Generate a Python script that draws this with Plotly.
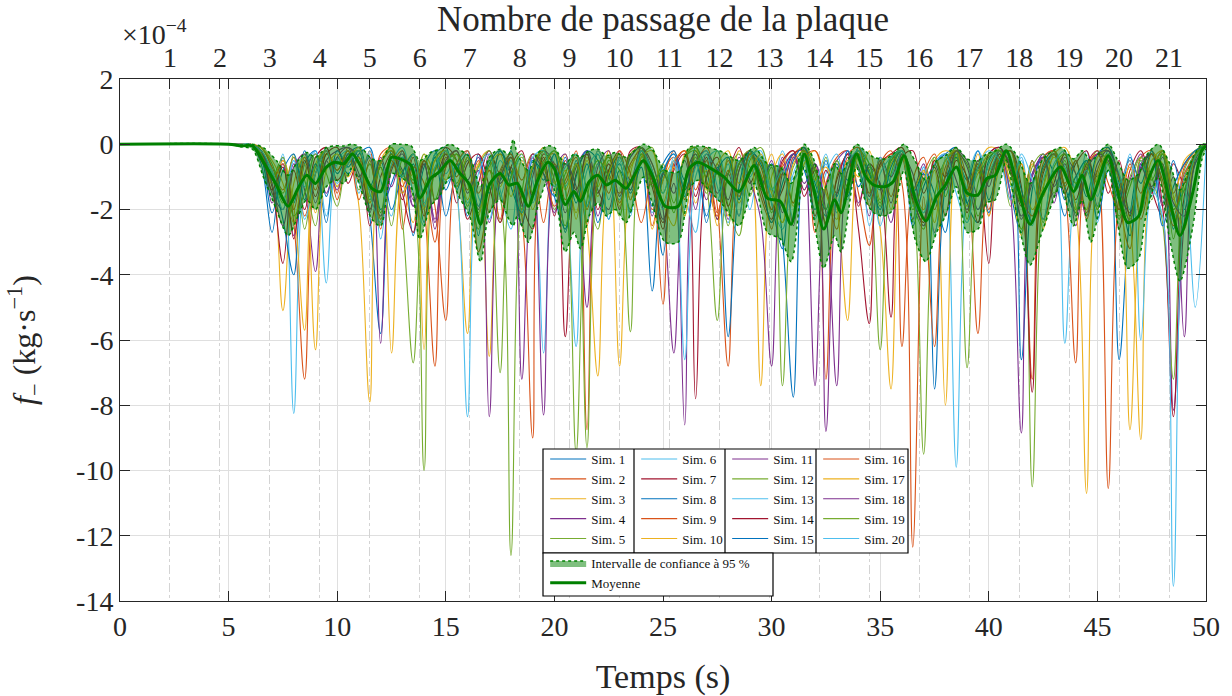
import numpy as np
import plotly.graph_objects as go

# ------------------------------------------------------------------ données
ECHELLE = 1e-4                      # les valeurs ci-dessous sont en 1e-4 kg/s
temps_grille = [0.0] + list(np.arange(5.5, 50.0 + 0.25, 0.5))   # 0 puis 5.5 ... 50 s

sim_01 = [0, 0, -0.6, -2.7, -0.4, -1.8, -0.2, -1.2, -0.1, -0.9,
          -0.3, -0.1, -2.2, -5.8, -0.2, -1.5, -0.6, -2.4, -0.3, -0.1,
          -1.4, -0.4, -2.8, -0.5, -1.1, -0.2, -2.0, -0.8, -0.1, -1.6,
          -2.6, -0.5, -1.9, -0.3, -1.2, -0.6, -2.1, -0.2, -1.0, -3.4,
          -0.5, -1.6, -0.1, -0.8, -2.3, -0.4, -1.7, -0.2, -1.3, -0.6,
          -2.9, -7.75, -0.3, -1.4, -2.2, -0.5, -1.1, -0.1, -0.9, -2.0,
          -0.4, -0.2, -2.5, -1.3, -0.6, -0.3, -0.1, -1.8, -2.4, -0.5,
          -0.1, -1.5, -2.7, -0.9, -0.4, -0.2, -1.3, -2.1, -0.5, -1.0,
          -0.2, -6.6, -2.2, -0.6, -1.4, -0.3, -2.6, -1.0, -0.4, 0]
sim_02 = [0, 0, -0.2, -1.1, -0.5, -2.4, -7.2, -0.9, -0.2, -1.5,
          -0.1, -0.6, -1.8, -0.3, -0.1, -2.6, -0.7, -1.2, -3.0, -0.4,
          -1.0, -0.2, -3.3, -1.6, -0.3, -0.8, -2.2, -9.0, -0.5, -0.3,
          -1.7, -0.6, -2.5, -0.2, -0.9, -1.5, -0.3, -0.1, -2.0, -1.1,
          -0.2, -1.4, -0.6, -0.1, -1.9, -6.8, -0.8, -0.2, -1.6, -2.4,
          -0.7, -0.3, -0.1, -2.7, -1.2, -0.4, -0.2, -1.5, -3.1, -0.6,
          -0.2, -6.2, -1.1, -0.4, -2.0, -0.7, -0.1, -1.6, -0.5, -2.2,
          -0.3, -0.9, -1.7, -7.2, -0.6, -0.2, -1.2, -0.5, -2.3, -0.8,
          -0.1, -1.8, -3.2, -0.4, -0.2, -1.3, -2.5, -0.7, -0.2, -0.05]
sim_03 = [0, 0, -0.1, -0.8, -5.1, -1.2, -0.4, -2.1, -0.3, -0.6,
          -0.2, -1.9, -7.9, -0.5, -0.1, -1.1, -2.4, -0.3, -0.8, -0.2,
          -1.5, -5.8, -0.6, -0.2, -1.3, -0.4, -2.0, -0.7, -0.1, -1.2,
          -0.3, -2.3, -0.5, -1.6, -0.2, -6.8, -0.9, -0.1, -0.6, -1.8,
          -2.5, -0.3, -0.1, -1.4, -0.6, -2.2, -0.2, -0.7, -1.1, -0.3,
          -1.9, -0.4, -0.1, -0.8, -2.4, -0.6, -1.3, -0.2, -1.0, -2.6,
          -7.5, -0.3, -1.5, -2.3, -0.5, -0.2, -0.4, -1.9, -0.7, -0.1,
          -0.2, -1.2, -2.8, -0.6, -1.6, -0.3, -0.1, -0.9, -2.0, -0.4,
          -0.2, -1.0, -8.75, -1.8, -0.3, -0.6, -2.0, -1.2, -0.3, -0.05]
sim_04 = [0, 0, -0.3, -1.5, -2.0, -0.6, -1.4, -3.9, -0.5, -0.2,
          -0.1, -0.4, -1.3, -2.2, -0.3, -0.8, -1.9, -0.5, -2.6, -0.7,
          -0.2, -1.1, -0.4, -2.4, -0.9, -0.3, -7.2, -1.0, -0.2, -0.6,
          -2.1, -0.7, -0.2, -1.4, -2.0, -0.4, -1.1, -0.1, -0.8, -2.3,
          -1.2, -8.6, -0.6, -0.2, -1.5, -0.9, -2.2, -0.3, -0.5, -1.7,
          -0.4, -2.5, -0.1, -7.4, -1.3, -0.5, -0.2, -1.8, -0.7, -1.2,
          -2.4, -0.3, -1.4, -0.6, -2.7, -1.0, -0.2, -0.5, -1.6, -0.3,
          -0.1, -0.7, -2.2, -1.2, -0.4, -1.6, -0.2, -2.5, -0.8, -0.3,
          -0.5, -2.0, -1.1, -0.3, -1.5, -0.6, -8.15, -2.4, -0.4, -0.05]
sim_05 = [0, 0, -0.2, -0.9, -1.8, -0.3, -2.6, -0.7, -0.2, -1.3,
          -0.5, -0.2, -1.7, -0.6, -0.1, -2.3, -6.7, -1.4, -0.4, -0.2,
          -1.2, -0.4, -2.1, -0.8, -1.6, -12.6, -1.5, -0.3, -0.6, -2.0,
          -0.9, -0.3, -1.4, -2.6, -0.5, -1.1, -5.75, -0.4, -0.1, -1.5,
          -0.6, -2.2, -0.3, -1.0, -0.2, -1.9, -2.8, -0.5, -0.1, -1.3,
          -2.4, -0.7, -0.2, -1.6, -0.4, -2.1, -0.8, -0.3, -1.2, -6.3,
          -0.9, -0.2, -1.8, -2.6, -0.4, -1.2, -0.3, -0.6, -2.2, -1.0,
          -0.3, -1.9, -0.6, -10.5, -1.4, -0.2, -0.8, -2.0, -0.5, -1.2,
          -0.3, -2.3, -1.0, -0.4, -1.7, -0.2, -2.9, -0.8, -0.2, 0]
sim_06 = [0, 0, -0.4, -1.6, -0.3, -8.25, -1.0, -0.2, -2.2, -0.5,
          -0.2, -1.2, -0.3, -2.9, -0.6, -0.1, -1.5, -2.5, -0.4, -0.9,
          -0.3, -1.8, -0.7, -0.2, -1.4, -2.6, -0.5, -1.1, -6.4, -0.3,
          -1.3, -0.6, -2.4, -0.2, -1.0, -1.7, -0.4, -0.1, -2.1, -0.8,
          -0.3, -1.5, -2.7, -0.5, -0.2, -1.2, -0.6, -2.0, -0.4, -1.6,
          -0.2, -1.1, -0.5, -2.3, -0.9, -0.3, -1.7, -0.1, -0.6, -2.5,
          -1.0, -0.3, -1.9, -0.7, -2.8, -0.4, -9.9, -1.3, -0.2, -0.8,
          -0.2, -1.4, -0.5, -2.2, -1.1, -0.3, -0.7, -1.8, -0.2, -2.4,
          -0.6, -1.5, -0.3, -2.1, -0.8, -0.2, -1.9, -0.9, -0.3, -0.1]
sim_07 = [0, 0, -0.5, -1.3, -3.65, -0.8, -2.0, -0.4, -0.1, -1.1,
          -0.6, -0.2, -2.5, -1.0, -0.3, -1.7, -0.4, -2.2, -0.8, -0.1,
          -0.5, -2.3, -1.2, -0.2, -0.9, -0.4, -1.8, -2.6, -0.3, -0.7,
          -5.9, -0.9, -0.3, -1.5, -0.6, -2.0, -0.2, -0.1, -1.3, -2.4,
          -0.7, -0.2, -1.6, -0.4, -2.3, -0.9, -0.1, -1.2, -0.5, -2.0,
          -1.4, -0.3, -0.2, -2.2, -0.8, -1.5, -0.4, -2.6, -5.5, -0.6,
          -0.3, -0.1, -1.7, -2.4, -0.5, -1.0, -0.2, -2.1, -0.7, -3.65,
          -0.4, -0.2, -1.3, -7.6, -0.9, -0.3, -1.5, -0.6, -0.2, -1.9,
          -0.4, -2.6, -0.8, -0.2, -1.4, -2.2, -0.6, -1.2, -0.3, -0.05]
sim_08 = [0, 0, -0.2, -1.0, -2.3, -4.0, -0.6, -0.2, -1.6, -0.4,
          -0.9, -0.3, -0.1, -2.0, -1.2, -0.4, -2.8, -0.7, -0.2, -1.4,
          -0.6, -2.2, -0.3, -1.5, -0.2, -0.9, -2.5, -0.4, -1.1, -0.3,
          -2.7, -1.0, -0.2, -0.5, -2.3, -0.8, -1.4, -0.3, -1.9, -0.6,
          -0.2, -1.1, -0.4, -2.4, -0.7, -5.9, -1.3, -0.2, -0.6, -1.8,
          -3.2, -0.5, -0.1, -1.2, -2.0, -0.6, -1.6, -0.3, -0.9, -1.4,
          -0.5, -0.2, -2.3, -0.8, -1.5, -2.7, -0.4, -1.1, -0.2, -1.7,
          -0.6, -0.2, -6.6, -1.4, -0.3, -0.9, -2.2, -0.5, -1.6, -0.3,
          -0.1, -1.2, -2.8, -0.7, -0.3, -1.8, -0.5, -2.0, -0.6, -0.05]
sim_09 = [0, 0, -0.1, -0.7, -1.4, -0.4, -2.2, -0.9, -0.2, -1.7,
          -0.4, -1.1, -0.2, -2.6, -0.5, -1.3, -0.3, -1.9, -6.8, -0.7,
          -0.2, -1.4, -0.5, -2.1, -0.8, -0.3, -1.6, -0.4, -2.4, -0.6,
          -1.2, -0.2, -8.75, -1.0, -0.4, -1.8, -0.6, -0.2, -2.5, -0.9,
          -0.4, -1.7, -0.2, -1.1, -2.2, -0.5, -1.5, -0.3, -0.9, -2.6,
          -0.6, -0.2, -1.4, -0.7, -7.2, -1.0, -0.3, -0.1, -1.9, -0.5,
          -1.6, -0.4, -2.3, -0.9, -0.3, -1.4, -0.2, -1.1, -5.8, -0.8,
          -0.2, -1.7, -0.6, -2.4, -0.4, -0.2, -1.3, -0.5, -2.1, -0.8,
          -10.55, -1.6, -0.5, -2.3, -0.9, -0.2, -1.5, -0.6, -0.3, -0.05]
sim_10 = [0, 0, -0.3, -1.2, -0.5, -1.9, -5.7, -0.6, -0.2, -1.3,
          -0.5, -0.1, -1.6, -0.7, -6.4, -0.9, -0.3, -2.0, -0.5, -1.1,
          -0.3, -1.7, -0.6, -6.5, -1.0, -0.4, -2.2, -0.7, -0.2, -1.5,
          -0.8, -2.1, -0.4, -1.3, -0.2, -1.9, -0.7, -0.3, -2.6, -1.1,
          -0.5, -0.2, -1.8, -0.8, -2.5, -0.4, -1.2, -0.3, -7.4, -1.0,
          -0.3, -1.9, -0.6, -0.2, -1.5, -2.3, -0.5, -1.0, -0.2, -1.7,
          -0.6, -0.2, -1.3, -2.0, -0.8, -8.0, -0.4, -1.5, -0.3, -2.2,
          -0.7, -0.2, -1.8, -0.5, -2.6, -1.0, -0.3, -1.4, -0.6, -2.0,
          -0.4, -1.1, -2.4, -9.05, -0.8, -0.3, -1.7, -0.5, -0.2, -0.1]
sim_11 = [0, 0, -0.2, -1.8, -0.6, -2.8, -0.9, -0.3, -1.5, -0.4,
          -0.1, -1.0, -0.4, -6.1, -0.8, -0.3, -1.9, -0.6, -2.3, -0.2,
          -1.3, -0.5, -2.0, -0.3, -1.2, -0.7, -2.5, -0.4, -8.3, -0.9,
          -0.3, -1.6, -0.2, -2.2, -0.8, -0.4, -1.4, -0.1, -0.6, -2.0,
          -6.4, -1.1, -0.3, -1.7, -0.6, -2.3, -0.8, -0.2, -1.3, -0.5,
          -2.1, -0.4, -1.2, -0.6, -8.8, -1.5, -0.3, -0.7, -2.2, -0.4,
          -1.0, -0.2, -1.6, -2.5, -0.6, -0.3, -1.1, -2.0, -0.5, -1.3,
          -0.2, -0.6, -2.3, -1.0, -0.3, -1.8, -0.4, -0.9, -2.2, -0.6,
          -0.2, -1.4, -2.1, -0.6, -0.3, -1.9, -1.0, -5.9, -0.5, -0.05]
sim_12 = [0, 0, -0.1, -0.6, -1.5, -0.4, -1.1, -2.5, -0.3, -0.8,
          -0.2, -1.4, -0.6, -2.1, -0.3, -0.9, -1.6, -10.0, -0.8, -0.3,
          -0.5, -1.9, -0.7, -0.2, -2.4, -1.0, -0.4, -1.5, -0.2, -1.1,
          -2.5, -0.6, -9.3, -1.2, -0.4, -0.8, -2.0, -0.3, -1.3, -0.6,
          -1.8, -0.4, -0.1, -1.2, -5.4, -0.9, -0.3, -1.6, -0.5, -2.1,
          -0.7, -1.8, -0.2, -1.0, -2.4, -0.5, -1.3, -0.3, -0.8, -1.9,
          -0.4, -0.2, -1.4, -9.5, -1.6, -0.5, -0.2, -2.3, -0.8, -1.1,
          -0.3, -1.2, -2.6, -0.7, -0.3, -1.5, -0.5, -2.1, -0.9, -0.2,
          -0.6, -2.2, -1.3, -0.4, -1.0, -2.4, -7.2, -1.1, -0.3, -0.05]
sim_13 = [0, 0, -0.3, -0.9, -2.0, -0.5, -1.3, -0.2, -4.25, -0.6,
          -0.3, -1.5, -0.2, -1.1, -2.2, -0.4, -0.8, -1.9, -0.3, -1.2,
          -0.6, -0.2, -1.6, -2.3, -0.5, -1.0, -0.3, -1.8, -0.6, -0.2,
          -1.4, -6.2, -0.8, -0.3, -1.7, -0.5, -2.2, -0.2, -0.9, -1.5,
          -0.4, -2.0, -0.7, -0.2, -1.3, -2.4, -0.5, -1.0, -0.3, -1.8,
          -2.6, -0.9, -0.3, -1.5, -0.6, -2.1, -0.2, -0.8, -1.7, -0.4,
          -1.2, -0.2, -2.4, -0.7, -1.8, -0.5, -0.3, -1.4, -2.0, -0.6,
          -0.2, -1.3, -0.4, -2.5, -0.8, -0.3, -6.1, -1.2, -0.5, -1.6,
          -0.3, -0.9, -2.0, -0.5, -1.6, -0.8, -2.3, -1.4, -5.0, -0.1]
sim_14 = [0, 0, -0.2, -1.4, -0.7, -2.9, -0.5, -1.6, -0.3, -0.1,
          -1.2, -0.4, -2.0, -0.6, -0.2, -1.5, -2.7, -0.5, -1.0, -0.3,
          -1.8, -0.6, -0.3, -1.3, -2.4, -0.7, -0.2, -1.6, -0.4, -2.2,
          -0.5, -1.4, -0.3, -2.0, -0.8, -0.2, -1.7, -0.5, -1.1, -2.6,
          -0.8, -0.3, -7.8, -1.0, -0.4, -1.9, -0.6, -0.2, -1.4, -2.3,
          -0.5, -0.2, -1.6, -0.8, -2.5, -1.1, -0.3, -1.9, -0.6, -1.3,
          -5.3, -0.4, -0.2, -1.5, -0.7, -2.2, -0.5, -1.0, -2.4, -0.3,
          -0.1, -0.8, -1.9, -0.5, -2.3, -1.2, -0.3, -1.7, -0.6, -0.2,
          -1.5, -0.5, -2.2, -0.8, -0.3, -1.9, -8.35, -1.6, -0.4, -0.05]
sim_15 = [0, 0, -0.4, -2.1, -0.8, -0.3, -1.7, -0.6, -2.4, -0.2,
          -0.7, -0.2, -1.3, -0.5, -2.0, -0.9, -0.3, -1.5, -0.4, -2.2,
          -0.8, -0.3, -1.9, -0.6, -0.2, -1.3, -2.1, -0.5, -0.9, -1.6,
          -0.4, -1.8, -0.6, -2.4, -1.0, -0.3, -1.5, -0.7, -4.5, -0.9,
          -0.3, -1.4, -0.5, -2.2, -0.8, -0.4, -1.7, -0.2, -1.0, -2.4,
          -1.2, -0.3, -0.8, -2.0, -0.5, -1.6, -0.2, -1.3, -0.6, -2.2,
          -0.7, -0.2, -1.5, -0.9, -7.5, -1.3, -0.4, -1.8, -0.6, -2.1,
          -0.5, -0.2, -1.4, -2.4, -0.7, -0.3, -1.7, -1.0, -0.5, -2.3,
          -0.8, -1.7, -0.4, -1.2, -0.2, -2.5, -1.3, -0.6, -0.2, -0.05]
sim_16 = [0, 0, -0.3, -1.1, -0.6, -2.0, -0.4, -1.4, -0.2, -0.8,
          -0.2, -1.7, -0.5, -2.3, -0.7, -0.2, -1.2, -0.5, -1.9, -5.4,
          -0.6, -0.2, -1.5, -0.8, -2.3, -0.4, -1.1, -0.3, -0.7, -1.9,
          -1.1, -0.4, -2.0, -0.6, -1.5, -0.2, -0.9, -2.4, -1.0, -4.9,
          -0.6, -0.2, -1.4, -0.5, -2.1, -0.8, -1.6, -0.3, -0.7, -2.0,
          -0.9, -1.8, -0.4, -0.2, -1.3, -2.6, -0.6, -0.3, -1.5, -0.7,
          -0.3, -1.2, -12.35, -1.6, -6.2, -0.9, -0.2, -1.4, -0.6, -2.0,
          -0.4, -0.2, -1.6, -2.2, -0.8, -0.3, -1.4, -6.7, -0.7, -0.3,
          -1.2, -2.0, -0.6, -1.5, -0.3, -1.1, -2.2, -0.9, -0.4, -0.05]
sim_17 = [0, 0, -0.1, -0.5, -1.2, -2.4, -0.6, -6.3, -0.8, -0.3,
          -1.0, -0.4, -1.8, -0.6, -0.2, -1.5, -0.9, -6.3, -0.5, -0.2,
          -1.3, -0.4, -2.2, -0.7, -0.3, -1.6, -0.5, -2.0, -0.8, -0.2,
          -1.4, -0.6, -2.5, -7.1, -0.9, -0.3, -1.7, -0.4, -0.2, -1.8,
          -0.7, -2.2, -0.4, -1.3, -0.6, -0.2, -1.8, -0.9, -0.3, -1.5,
          -2.4, -0.6, -0.2, -1.1, -0.7, -1.9, -5.4, -0.4, -1.2, -0.5,
          -2.0, -0.3, -1.4, -0.8, -2.4, -0.5, -0.2, -1.6, -0.9, -0.3,
          -0.2, -1.1, -0.6, -2.0, -1.3, -0.4, -0.8, -1.9, -10.7, -1.0,
          -0.3, -1.4, -0.7, -2.1, -0.5, -0.2, -1.6, -2.6, -0.4, -0.05]
sim_18 = [0, 0, -0.2, -1.2, -2.5, -0.7, -0.3, -1.8, -0.5, -1.4,
          -0.3, -0.9, -2.1, -0.4, -1.3, -0.2, -1.7, -0.6, -2.4, -0.5,
          -0.2, -1.5, -0.8, -8.35, -1.1, -0.4, -1.9, -0.3, -0.9, -2.1,
          -0.6, -1.3, -5.0, -0.7, -0.2, -1.6, -0.4, -0.1, -2.2, -0.9,
          -1.5, -0.5, -2.0, -0.3, -0.8, -1.7, -0.4, -1.1, -2.3, -6.8,
          -0.9, -0.3, -1.4, -0.6, -2.1, -7.4, -0.8, -0.2, -1.6, -0.5,
          -1.8, -0.3, -0.9, -2.3, -0.6, -1.4, -0.2, -0.7, -2.0, -1.1,
          -0.3, -1.6, -8.85, -0.9, -0.4, -1.3, -0.6, -2.2, -0.8, -0.3,
          -0.2, -1.0, -2.4, -0.7, -1.3, -0.4, -1.8, -2.2, -0.6, -0.05]
sim_19 = [0, 0, -0.3, -1.0, -0.4, -2.2, -1.5, -0.3, -0.9, -1.9,
          -0.4, -0.2, -1.4, -0.7, -2.5, -0.5, -1.1, -0.3, -1.7, -0.6,
          -0.3, -1.2, -2.6, -0.4, -7.0, -1.0, -0.3, -1.5, -0.6, -0.2,
          -1.3, -9.45, -1.7, -0.5, -1.0, -2.2, -0.3, -0.1, -1.2, -0.8,
          -2.1, -0.4, -0.2, -1.5, -0.9, -2.5, -0.6, -0.2, -1.4, -0.7,
          -7.4, -1.2, -0.3, -0.8, -2.0, -0.5, -1.5, -0.2, -0.6, -1.8,
          -0.5, -0.2, -2.0, -1.1, -0.4, -1.6, -0.3, -6.85, -1.2, -0.4,
          -0.2, -0.9, -1.8, -0.5, -2.4, -0.7, -0.3, -1.2, -0.6, -2.0,
          -0.4, -1.6, -2.3, -0.5, -1.1, -0.3, -2.0, -1.4, -0.4, 0]
sim_20 = [0, 0, -0.2, -0.8, -1.7, -0.5, -2.3, -0.9, -0.2, -1.2,
          -0.6, -0.2, -1.5, -2.4, -0.4, -1.0, -0.3, -1.8, -0.7, -0.2,
          -1.4, -8.35, -0.9, -0.3, -1.6, -0.5, -2.1, -0.4, -0.2, -1.3,
          -0.7, -0.3, -1.9, -0.6, -2.3, -0.4, -1.2, -0.2, -0.8, -2.0,
          -0.5, -6.6, -1.0, -0.3, -1.7, -0.6, -2.2, -0.4, -0.2, -1.4,
          -0.8, -2.3, -0.4, -1.2, -0.3, -1.8, -0.6, -0.2, -2.5, -0.9,
          -0.4, -0.2, -1.3, -2.1, -0.6, -0.3, -1.5, -2.4, -0.7, -0.2,
          -0.5, -1.7, -0.3, -1.1, -2.3, -0.6, -0.2, -1.4, -0.8, -1.9,
          -0.3, -1.2, -0.5, -6.0, -1.4, -2.2, -13.55, -1.8, -0.4, -0.05]

simulations = [sim_01, sim_02, sim_03, sim_04, sim_05, sim_06, sim_07,
               sim_08, sim_09, sim_10, sim_11, sim_12, sim_13, sim_14,
               sim_15, sim_16, sim_17, sim_18, sim_19, sim_20]
noms_sims = [f"Sim. {k}" for k in range(1, 21)]

# Moyenne et intervalle de confiance à 95 %
moyenne_t = [0, 5.0, 5.6, 6.1, 6.6, 7.2, 7.74, 8.2, 8.6, 9.0, 9.5, 9.9, 10.3,
             10.7, 11.1, 11.6, 12.0, 12.5, 12.9, 13.4, 13.8, 14.3, 14.7, 15.2,
             15.6, 16.1, 16.6, 17.0, 17.5, 17.9, 18.1, 18.3, 18.8, 19.2, 19.7,
             20.0, 20.5, 20.9, 21.2, 21.6, 22.0, 22.4, 22.8, 23.3, 23.6, 24.1,
             24.5, 25.1, 25.7, 26.2, 26.6, 27.1, 27.8, 28.5, 29.2, 29.8, 30.4,
             30.9, 31.5, 31.9, 32.4, 32.9, 33.2, 33.9, 34.3, 34.7, 35.2, 35.6,
             36.1, 36.6, 37.1, 37.6, 38.0, 38.5, 39.0, 39.5, 39.9, 40.3, 40.8,
             41.3, 41.9, 42.5, 43.3, 43.9, 44.3, 44.7, 45.5, 45.9, 46.4, 46.9,
             47.2, 47.8, 48.3, 48.8, 49.4, 49.8, 50.0]
moyenne_v = [0, 0, -0.05, -0.05, -0.54, -1.25, -1.9, -1.35, -0.95, -1.2, -0.7,
             -0.55, -0.6, -0.3, -0.7, -1.35, -1.45, -0.4, -0.45, -0.65, -1.65,
             -1.05, -0.85, -0.5, -0.85, -1.25, -2.45, -1.25, -0.9, -1.25, -1.22,
             -1.2, -1.9, -1.15, -0.55, -0.75, -1.85, -1.45, -1.75, -1.15, -0.95,
             -1.25, -1.1, -1.35, -1.05, -0.5, -0.95, -1.9, -1.9, -0.75, -0.55,
             -0.7, -1.0, -1.45, -0.65, -1.65, -1.75, -2.45, -0.3, -1.25, -2.6,
             -1.7, -2.1, -0.3, -0.95, -1.25, -1.3, -1.15, -0.35, -1.65, -2.35,
             -1.6, -1.25, -0.7, -1.5, -1.55, -1.05, -0.95, -0.2, -1.25, -2.45,
             -1.5, -0.7, -1.45, -0.95, -1.7, -0.35, -1.35, -2.4, -2.2, -1.35,
             -0.5, -1.65, -2.8, -1.45, -0.2, -0.05]
ic_bas = [0, 0, -0.08, -0.15, -1.0, -2.0, -2.8, -2.2, -1.7, -2.0, -1.3, -1.1,
          -1.2, -0.7, -1.4, -2.3, -2.5, -0.9, -1.0, -1.3, -2.9, -1.9, -1.6,
          -1.0, -1.6, -2.2, -3.6, -2.1, -1.7, -2.3, -2.5, -2.2, -3.0, -2.0,
          -1.1, -1.4, -3.3, -2.7, -3.2, -2.2, -1.8, -2.2, -2.0, -2.4, -1.9,
          -1.0, -1.8, -3.0, -3.0, -1.4, -1.1, -1.4, -1.9, -2.5, -1.2, -2.7,
          -2.9, -3.6, -0.7, -2.1, -3.8, -2.8, -3.3, -0.7, -1.7, -2.1, -2.2,
          -2.0, -0.8, -2.9, -3.6, -2.7, -2.2, -1.3, -2.7, -2.6, -1.8, -1.7,
          -0.5, -2.2, -3.7, -2.6, -1.3, -2.5, -1.7, -3.0, -0.8, -2.3, -3.8,
          -3.5, -2.3, -1.0, -2.8, -4.2, -2.5, -0.5, -0.15]
ic_haut = [0, 0, -0.02, 0, -0.1, -0.5, -0.95, -0.5, -0.25, -0.4, -0.1, -0.05,
           -0.05, 0, -0.1, -0.45, -0.5, 0, 0, -0.05, -0.5, -0.25, -0.15, 0,
           -0.15, -0.4, -1.3, -0.4, -0.15, -0.3, 0.15, -0.3, -0.8, -0.3,
           -0.05, -0.1, -0.6, -0.3, -0.4, -0.2, -0.15, -0.35, -0.25, -0.4,
           -0.25, 0, -0.15, -0.8, -0.85, -0.1, -0.05, -0.1, -0.25, -0.5, -0.1,
           -0.6, -0.7, -1.2, 0, -0.4, -1.4, -0.6, -0.9, 0, -0.2, -0.4, -0.45,
           -0.3, 0, -0.5, -1.1, -0.5, -0.35, -0.1, -0.45, -0.5, -0.3, -0.2, 0,
           -0.35, -1.2, -0.45, -0.1, -0.45, -0.2, -0.5, 0, -0.45, -1.1, -0.9,
           -0.4, 0, -0.55, -1.4, -0.4, 0, 0]

assert all(len(s) == 90 for s in simulations)
assert len(moyenne_t) == len(moyenne_v) == len(ic_bas) == len(ic_haut)

# Axes
temps_ticks = list(range(0, 51, 5))
y_ticks = list(range(2, -15, -2))
y_ticktext = [str(v) for v in y_ticks]
passages = list(range(1, 22))
periode_passage = 2.3          # s par passage de la plaque
T_MAX = 50.0

couleurs_matlab = ['#0072BD', '#D95319', '#EDB120', '#7E2F8E',
                   '#77AC30', '#4DBEEE', '#A2142F']
VERT = '#008000'
POLICE = 'Liberation Serif'
GRIS_TXT = '#262626'

# ------------------------------------------------------------------ figure
fig = go.Figure()
legendes_col = ['legend', 'legend2', 'legend3', 'legend4']

for k, (nom, vals) in enumerate(zip(noms_sims, simulations)):
    y = [0.0] + [v * ECHELLE for v in vals]
    fig.add_trace(go.Scatter(
        x=temps_grille, y=y, mode='lines', name=nom,
        line=dict(color=couleurs_matlab[k % 7], width=1.1, shape='spline', smoothing=1.0),
        legend=legendes_col[k // 5], hoverinfo='skip'))

# Intervalle de confiance
fig.add_trace(go.Scatter(
    x=moyenne_t, y=[v * ECHELLE for v in ic_haut], mode='lines',
    line=dict(color=VERT, width=1.5, dash='dot', shape='spline', smoothing=0.8),
    showlegend=False, hoverinfo='skip', legend='legend5'))
fig.add_trace(go.Scatter(
    x=moyenne_t, y=[v * ECHELLE for v in ic_bas], mode='lines',
    name='Intervalle de confiance à 95 %',
    line=dict(color=VERT, width=1.5, dash='dot', shape='spline', smoothing=0.8),
    fill='tonexty', fillcolor='rgba(0,128,0,0.5)',
    legend='legend5', hoverinfo='skip'))
# Moyenne
fig.add_trace(go.Scatter(
    x=moyenne_t, y=[v * ECHELLE for v in moyenne_v], mode='lines', name='Moyenne',
    line=dict(color=VERT, width=3, shape='spline', smoothing=0.8),
    legend='legend5', hoverinfo='skip'))

# trace vide pour activer l'axe du haut
fig.add_trace(go.Scatter(x=[0, T_MAX / periode_passage], y=[None, None],
                         xaxis='x2', showlegend=False, hoverinfo='skip'))

# ------------------------------------------------------------------ mise en page
L, R, T, B = 120, 26, 79, 95
W, H = 1232, 696
pw, ph = W - L - R, H - T - B


def px_x(X):
    return (X - L) / pw


def px_y(Y):
    return (H - B - Y) / ph


axe_commun = dict(ticks='inside', ticklen=10, tickcolor=GRIS_TXT, showline=True,
                  linecolor=GRIS_TXT, linewidth=1,
                  tickfont=dict(family=POLICE, size=28, color=GRIS_TXT))

fig.update_layout(
    width=W, height=H, margin=dict(l=L, r=R, t=T, b=B, autoexpand=False),
    paper_bgcolor='white', plot_bgcolor='white',
    font=dict(family=POLICE, color=GRIS_TXT),
    xaxis=dict(range=[0, T_MAX], tickvals=temps_ticks, showgrid=True,
               gridcolor='#dfdfdf', gridwidth=1, zeroline=False, mirror='ticks',
               title=dict(text='Temps (s)', font=dict(family=POLICE, size=34, color=GRIS_TXT),
                          standoff=25),
               **axe_commun),
    xaxis2=dict(range=[0, T_MAX / periode_passage], overlaying='x', side='top',
                anchor='y', tickvals=passages, showgrid=True, gridcolor='#d4d4d4',
                griddash='dashdot', gridwidth=1, zeroline=False,
                title=dict(text='Nombre de passage de la plaque',
                           font=dict(family=POLICE, size=35, color=GRIS_TXT), standoff=4),
                **axe_commun),
    yaxis=dict(range=[y_ticks[-1] * ECHELLE, y_ticks[0] * ECHELLE],
               tickvals=[v * ECHELLE for v in y_ticks], ticktext=y_ticktext,
               showgrid=True, gridcolor='#dfdfdf', gridwidth=1, zeroline=False,
               mirror='ticks',
               title=dict(text='<i>f</i><sub>−</sub> (kg·s<sup>−1</sup>)',
                          font=dict(family=POLICE, size=32, color=GRIS_TXT), standoff=30),
               **axe_commun),
    showlegend=True,
)

# légendes (4 colonnes de simulations + 1 bloc intervalle/moyenne)
col_X = [543, 634, 725, 816, 908]
leg_box_top_Y = 449
leg_sims_bot_Y = 553
leg_ic_bot_Y = 596
ic_right_X = 773
police_leg = dict(family=POLICE, size=13, color='#111111')
for i, nom_leg in enumerate(legendes_col):
    fig.update_layout({nom_leg: dict(
        x=px_x(col_X[i]) + 0.002, y=px_y(leg_box_top_Y - 5), xanchor='left', yanchor='top',
        orientation='v', bgcolor='rgba(0,0,0,0)', borderwidth=0, font=police_leg,
        itemwidth=36, tracegroupgap=0, traceorder='normal')})
fig.update_layout(legend5=dict(
    x=px_x(col_X[0]) + 0.002, y=px_y(leg_sims_bot_Y - 5), xanchor='left', yanchor='top',
    orientation='v', bgcolor='rgba(0,0,0,0)', borderwidth=0, font=police_leg,
    itemwidth=36, tracegroupgap=0, traceorder='normal'))

formes = [
    dict(type='rect', xref='paper', yref='paper', x0=px_x(col_X[0]), x1=px_x(col_X[4]),
         y0=px_y(leg_sims_bot_Y), y1=px_y(leg_box_top_Y), line=dict(color='black', width=1.2),
         fillcolor='white', layer='above'),
    dict(type='rect', xref='paper', yref='paper', x0=px_x(col_X[0]), x1=px_x(ic_right_X),
         y0=px_y(leg_ic_bot_Y), y1=px_y(leg_sims_bot_Y), line=dict(color='black', width=1.2),
         fillcolor='white', layer='above'),
]
for Xc in col_X[1:4]:
    formes.append(dict(type='line', xref='paper', yref='paper', x0=px_x(Xc), x1=px_x(Xc),
                       y0=px_y(leg_sims_bot_Y), y1=px_y(leg_box_top_Y),
                       line=dict(color='black', width=1.2), layer='above'))
fig.update_layout(shapes=formes)

fig.add_annotation(text='×10<sup>−4</sup>', xref='paper', yref='paper',
                   x=0.0, y=px_y(33), xanchor='left', yanchor='middle',
                   showarrow=False, font=dict(family=POLICE, size=28, color=GRIS_TXT))

fig.write_html('out.html', config={'displayModeBar': False},
               post_script="document.body.style.margin='0px';"
                           "document.body.style.overflow='hidden';")
